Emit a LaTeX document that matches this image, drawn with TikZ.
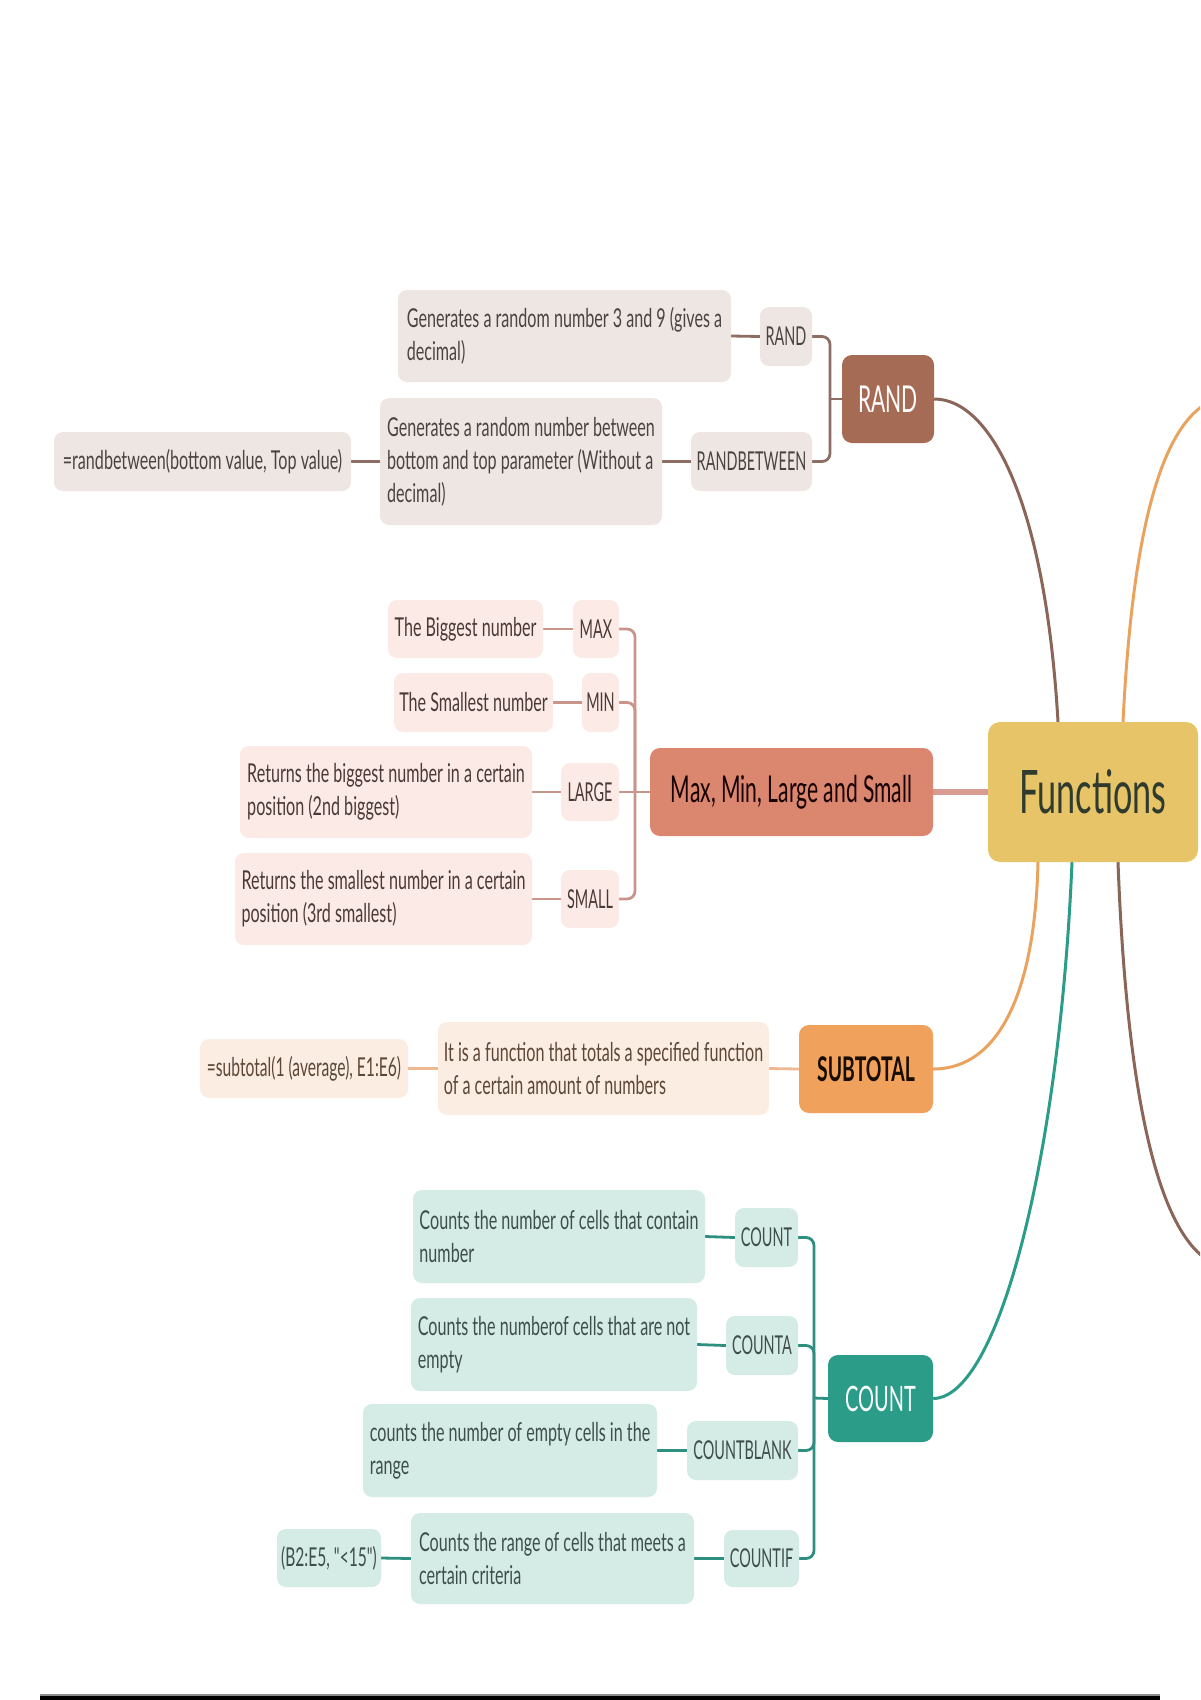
\documentclass[tikz,border=0pt]{standalone}
\usepackage{fontspec}
\setmainfont{Lato}[FakeStretch=0.57]
\newfontfamily\kidfont{Lato}[FakeStretch=0.62]
\newfontfamily\labfont{Lato}[FakeStretch=0.555]
\newfontfamily\formfont{Lato}[FakeStretch=0.60]
\pgfdeclarelayer{bg}
\pgfsetlayers{bg,main}
\definecolor{randKid}{HTML}{EEE6E3}
\definecolor{randTxt}{HTML}{4B4340}
\definecolor{randMain}{HTML}{A66B55}
\definecolor{randLine}{HTML}{8E6E64}
\definecolor{randCurve}{HTML}{8A6558}
\definecolor{maxKid}{HTML}{FBEAE5}
\definecolor{maxTxt}{HTML}{4A3A36}
\definecolor{maxMain}{HTML}{DB8770}
\definecolor{maxLine}{HTML}{C9958A}
\definecolor{maxThick}{HTML}{D99A92}
\definecolor{fnFill}{HTML}{E8C468}
\definecolor{fnTxt}{HTML}{2E3B2E}
\definecolor{subKid}{HTML}{FCEDE3}
\definecolor{subTxt}{HTML}{5C4636}
\definecolor{subMain}{HTML}{F0A25C}
\definecolor{subLine}{HTML}{EDB892}
\definecolor{subCurve}{HTML}{E9A35F}
\definecolor{cntKid}{HTML}{D4EBE6}
\definecolor{cntTxt}{HTML}{3E4E4B}
\definecolor{cntMain}{HTML}{2A9C88}
\definecolor{cntLine}{HTML}{2E8F80}
\newcommand\fsk{\kidfont\fontsize{26}{33}\selectfont}
\newcommand\fsl{\labfont\fontsize{26}{33}\selectfont}
\newcommand\fsr{\formfont\fontsize{26}{33}\selectfont}
\newcommand\fsm{\fontsize{37}{44}\selectfont}
\newcommand\fsf{\fontsize{60}{66}\selectfont}
\newcommand\bxn[7]{\node[#1, minimum width={#4-#3}, minimum height={#6-#5}] (#2) at ({(#3+#4)/2},{(#5+#6)/2}) {#7};}
\tikzset{
  kid/.style={rounded corners=9pt, inner sep=0pt, align=left, font=\fsk},
  lab/.style={font=\fsl},
  form/.style={font=\fsr},
  randkid/.style={kid, fill=randKid, text=randTxt},
  maxkid/.style={kid, fill=maxKid, text=maxTxt},
  subkid/.style={kid, fill=subKid, text=subTxt},
  cntkid/.style={kid, fill=cntKid, text=cntTxt},
  mainbox/.style={rounded corners=10pt, inner sep=0pt, align=center, font=\fsm},
  randmain/.style={mainbox, fill=randMain, text=white!92!randKid},
  maxmain/.style={mainbox, fill=maxMain, text=black!90!red},
  submain/.style={mainbox, fill=subMain, text=black!90!orange, font=\fontsize{34}{40}\selectfont\bfseries},
  cntmain/.style={mainbox, fill=cntMain, text=white!92!cntKid, font=\fontsize{35}{42}\selectfont},
  fnstyle/.style={rounded corners=12pt, inner sep=0pt, align=center, font=\fsf, fill=fnFill, text=fnTxt},
  conn/.style={line width=2.8pt, rounded corners=8pt},
  curve/.style={line width=3pt},
}
\begin{document}
\begin{tikzpicture}[x=1pt,y=-1pt]
\useasboundingbox (0,0) rectangle (1200,1700);

% RAND branch
\bxn{randkid}{randdesc}{398}{731}{290}{382}{Generates a random number 3 and 9 (gives a\\decimal)}
\bxn{randkid,lab}{randS}{760}{812}{307}{366}{RAND}
\bxn{randmain}{randM}{842}{934}{355}{443}{RAND}
\bxn{randkid}{rbform}{54}{351}{432}{491}{=randbetween(bottom value, Top value)}
\bxn{randkid}{rbdesc}{380}{662}{398}{525}{Generates a random number between\\bottom and top parameter (Without a\\decimal)}
\bxn{randkid,lab}{rbS}{691}{812}{432}{491}{RANDBETWEEN}

% MAX branch
\bxn{maxkid}{bigd}{388}{543}{600}{658}{The Biggest number}
\bxn{maxkid,lab}{maxS}{573}{619}{600}{658}{MAX}
\bxn{maxkid}{smld}{394}{553}{673}{732}{The Smallest number}
\bxn{maxkid,lab}{minS}{582}{619}{673}{732}{MIN}
\bxn{maxkid}{lrgd}{240}{532}{746}{838}{Returns the biggest number in a certain\\position (2nd biggest)}
\bxn{maxkid,lab}{lrgS}{561}{619}{763}{821}{LARGE}
\bxn{maxkid}{smsd}{235}{532}{853}{945}{Returns the smallest number in a certain\\position (3rd smallest)}
\bxn{maxkid,lab}{smlS}{561}{619}{870}{928}{SMALL}
\bxn{maxmain}{maxM}{650}{933}{748}{836}{Max, Min, Large and Small}
\bxn{fnstyle}{fn}{988}{1198}{722}{862}{Functions}

% SUBTOTAL branch
\bxn{subkid,form}{subf}{200}{408}{1039}{1098}{=subtotal(1 (average), E1:E6)}
\bxn{subkid}{subd}{438}{769}{1022}{1115}{It is a function that totals a specified function\\of a certain amount of numbers}
\bxn{submain}{subM}{799}{933}{1025}{1113}{SUBTOTAL}

% COUNT branch
\bxn{cntkid}{cd}{413}{705}{1190}{1283}{Counts the number of cells that contain\\number}
\bxn{cntkid,lab}{cS}{735}{798}{1208}{1267}{COUNT}
\bxn{cntkid}{cad}{411}{697}{1298}{1391}{Counts the numberof cells that are not\\empty}
\bxn{cntkid,lab}{caS}{726}{798}{1316}{1375}{COUNTA}
\bxn{cntkid}{cbd}{363}{657}{1404}{1497}{counts the number of empty cells in the\\range}
\bxn{cntkid,lab}{cbS}{687}{798}{1421}{1480}{COUNTBLANK}
\bxn{cntkid,form}{cif}{277}{381}{1529}{1587}{(B2:E5, "<15")}
\bxn{cntkid}{cid}{411}{694}{1513}{1604}{Counts the range of cells that meets a\\certain criteria}
\bxn{cntkid,lab}{ciS}{724}{799}{1530}{1587}{COUNTIF}
\bxn{cntmain}{cM}{828}{933}{1355}{1442}{COUNT}

\coordinate (randbr) at (830,399);
\coordinate (maxbr) at (635,792);
\coordinate (cbr) at (814,1398);
\coordinate (rightTop) at (1232,396);
\coordinate (rightBot) at (1232,1268);

\begin{pgfonlayer}{bg}
\clip (0,0) rectangle (1200,1700);
% RAND
\draw[conn, randLine] (randdesc.east) -- (randS.west);
\draw[conn, randLine] (rbform.east) -- (rbdesc.west);
\draw[conn, randLine] (rbdesc.east) -- (rbS.west);
\draw[conn, randLine] (randS.east) -| (randbr) |- (rbS.east);
\draw[conn, randLine] (randbr) -- (randM.west);
\draw[curve, randCurve] (randM.east) .. controls (990,399) and (1045,500) .. ([xshift=-35pt]fn.north);
% MAX
\draw[conn, maxLine] (bigd.east) -- (maxS.west);
\draw[conn, maxLine] (smld.east) -- (minS.west);
\draw[conn, maxLine] (lrgd.east) -- (lrgS.west);
\draw[conn, maxLine] (smsd.east) -- (smlS.west);
\draw[conn, maxLine] (maxS.east) -| (maxbr) |- (smlS.east);
\draw[conn, maxLine] (minS.east) -| (maxbr);
\draw[conn, maxLine] (lrgS.east) -- (maxM.west);
\draw[line width=6pt, maxThick] (maxM.east) -- (fn.west);
% SUBTOTAL
\draw[conn, subLine] (subf.east) -- (subd.west);
\draw[conn, subLine] (subd.east) -- (subM.west);
\draw[curve, subCurve] (subM.east) .. controls (1000,1069) and (1035,990) .. ([xshift=-55pt]fn.south);
% COUNT
\draw[conn, cntLine] (cd.east) -- (cS.west);
\draw[conn, cntLine] (cad.east) -- (caS.west);
\draw[conn, cntLine] (cbd.east) -- (cbS.west);
\draw[conn, cntLine] (cif.east) -- (cid.west);
\draw[conn, cntLine] (cid.east) -- (ciS.west);
\draw[conn, cntLine] (cS.east) -| (cbr) |- (ciS.east);
\draw[conn, cntLine] (caS.east) -| (cbr);
\draw[conn, cntLine] (cbS.east) -| (cbr);
\draw[conn, cntLine] (cbr) -- (cM.west);
\draw[curve, cntMain] (cM.east) .. controls (1000,1398) and (1060,1150) .. ([xshift=-21pt]fn.south);
% off-page branches
\draw[curve, subCurve] ([xshift=30pt]fn.north) .. controls (1133,520) and (1165,398) .. (rightTop);
\draw[curve, randCurve] ([xshift=25pt]fn.south) .. controls (1125,1050) and (1150,1265) .. (rightBot);
\end{pgfonlayer}

\fill[black!45] (40,1694) rectangle (1160,1696);
\fill[black] (40,1696) rectangle (1160,1700);
\end{tikzpicture}
\end{document}
